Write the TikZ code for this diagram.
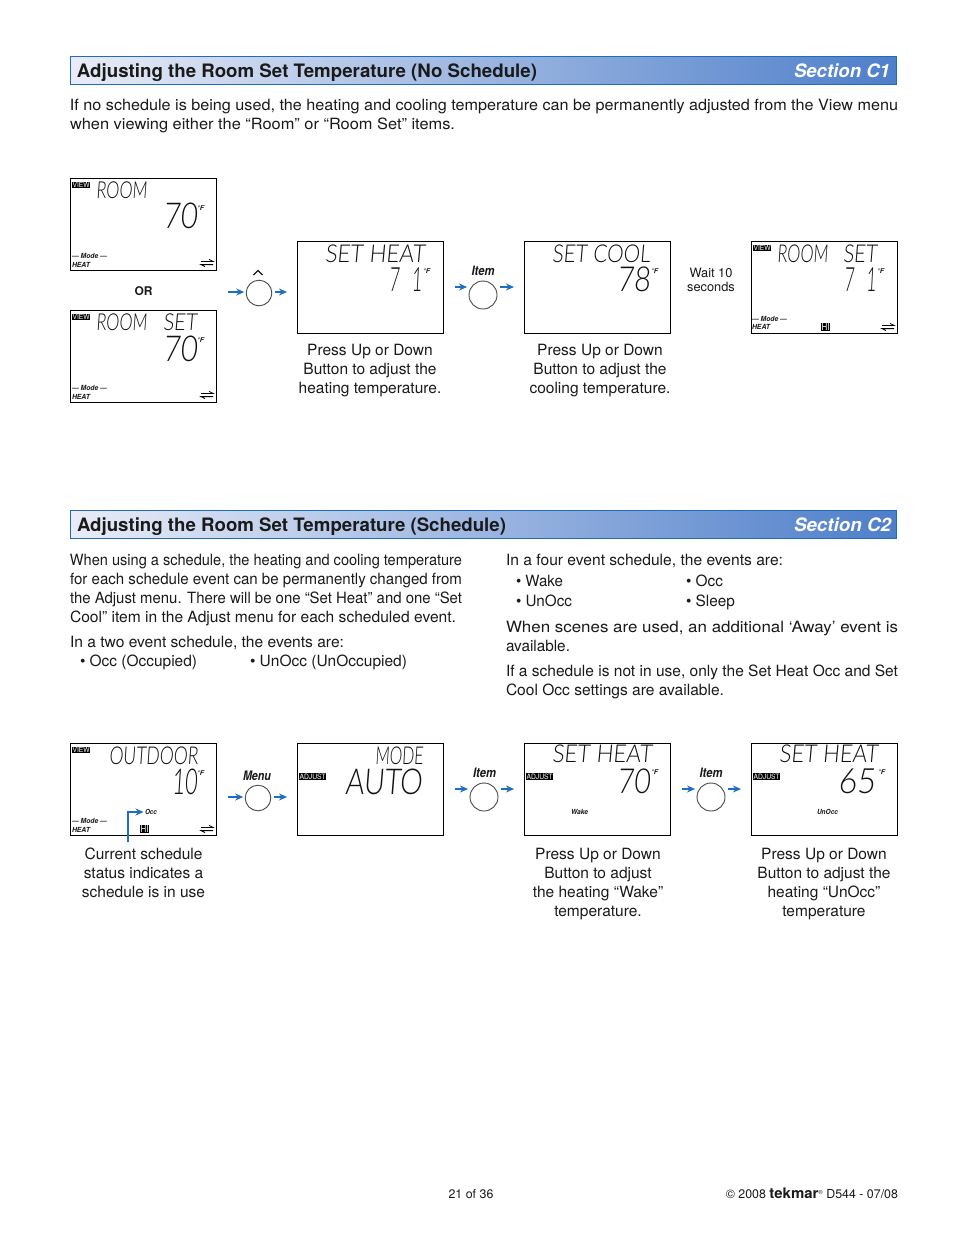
\documentclass[tikz,border=0pt]{standalone}
\usepackage{fontspec}
\usepackage{graphicx}
\usepackage{xcolor}
\usepackage{tikz}
\usetikzlibrary{arrows.meta,calc,positioning}
\setmainfont{TeX Gyre Heros}
\newfontfamily\lcdfont[FakeSlant=0.1]{Lato Light}
\definecolor{barblue}{HTML}{1F6DBA}
\definecolor{barleft}{HTML}{E9ECF7}
\definecolor{barright}{HTML}{4E7FCA}
\definecolor{flowblue}{HTML}{1C6FC2}
\definecolor{inkmain}{HTML}{1A1A1A}
\definecolor{lcdink}{HTML}{111111}
\tikzset{
  every node/.append style={inner sep=0pt,outer sep=0pt,text=inkmain},
  sectionbar/.style={draw=barblue,line width=1.2pt,left color=barleft,right color=barright,
    anchor=north west,minimum width=826pt,minimum height=28pt},
  bartitle/.style={anchor=base west,font=\bfseries\fontsize{18.5}{20}\selectfont},
  barsection/.style={anchor=base east,text=white,font=\bfseries\itshape\fontsize{18.5}{20}\selectfont},
  bodytext/.style={anchor=base west,font=\fontsize{15.5}{19}\selectfont},
  caption/.style={anchor=north,align=center,font=\fontsize{15.5}{19}\selectfont},
  lcdbox/.style={draw=black,line width=0.9pt,fill=white,anchor=north west,minimum width=146.5pt,minimum height=92.5pt},
  lcdseg/.style={anchor=north west,text=lcdink},
  lcdtiny/.style={anchor=west,font=\bfseries\itshape\fontsize{7}{8}\selectfont},
  badge/.style={anchor=north west,fill=black,text=white,inner sep=0.6pt,font=\fontsize{7}{7}\selectfont},
  btn/.style={circle,draw=inkmain!80,line width=0.9pt,fill=white},
  btnlabel/.style={anchor=center,font=\bfseries\itshape\fontsize{13}{14}\selectfont},
  flowin/.style={-{Stealth[length=8pt,width=7pt]},flowblue,line width=1.6pt,shorten <=11pt,shorten >=2pt},
  flowout/.style={-{Stealth[length=8pt,width=7pt]},flowblue,line width=1.6pt,shorten <=3pt,shorten >=10pt},
  swapline/.style={line width=0.8pt,black},
}
% squeeze a line of text to a given width
\newcommand{\fitw}[2]{\resizebox{#1pt}{\height}{#2}}
% name, x, y, width, height, characters
\newcommand{\lcdtext}[6]{\node[lcdseg] (#1) at (#2,#3) {\resizebox{#4pt}{\dimexpr #5pt*88/100\relax}{\lcdfont #6}};}
\newcommand{\degF}[3]{\node[lcdtiny,font=\bfseries\itshape\fontsize{6.5}{7}\selectfont] (#1) at (#2,#3) {\fitw{7}{°F}};}
\newcommand{\viewbadge}[3]{\node[badge] (#1) at (#2,#3) {\resizebox{17pt}{5pt}{VIEW}};}
\newcommand{\adjustbadge}[3]{\node[badge] (#1) at (#2,#3) {\resizebox{26pt}{5.5pt}{ADJUST}};}
\newcommand{\hibadge}[3]{\node[badge] (#1) at (#2,#3) {\resizebox{8pt}{7pt}{HI}};}
\newcommand{\modeblock}[3]{%
  \node[lcdtiny] (#1mode) at (#2,#3) {\fitw{35}{--- Mode ---}};
  \node[lcdtiny] (#1heat) at (#2,#3+8.5) {\fitw{18}{HEAT}};}
\newcommand{\swapsym}[2]{%
  \draw[swapline] (#1,#2-1.6)--(#1+12,#2-1.6)--(#1+8,#2-3.6);
  \draw[swapline] (#1+12,#2+1.6)--(#1,#2+1.6)--(#1+4,#2+3.6);}

\begin{document}
\begin{tikzpicture}[x=1pt,y=-1pt,>=Stealth]
  \path[use as bounding box,fill=white] (0,0) rectangle (954,1235);

  % section C1
  \node[sectionbar] (barone) at (70.5,56.5) {};
  \node[bartitle] (baronetitle) at (77,77) {\fitw{460}{Adjusting the Room Set Temperature (No Schedule)}};
  \node[barsection] (baronesec) at (890,77) {\fitw{96}{Section C1}};
  \node[bodytext] (introa) at (70,110) {\fitw{828}{If no schedule is being used, the heating and cooling temperature can be permanently adjusted from the View menu}};
  \node[bodytext] (introb) at (70,129) {\fitw{385}{when viewing either the “Room” or “Room Set” items.}};

  \node[lcdbox] (panela) at (70,178) {};
  \node[lcdbox] (panelb) at (70,310) {};
  \node[lcdbox] (panelc) at (297,241) {};
  \node[lcdbox] (paneld) at (524,241) {};
  \node[lcdbox] (panele) at (751,241) {};
  \node[lcdbox] (panelf) at (70,743) {};
  \node[lcdbox] (panelg) at (297,743) {};
  \node[lcdbox] (panelh) at (524,743) {};
  \node[lcdbox] (paneli) at (751,743) {};

  \viewbadge{aview}{72}{182}
  \lcdtext{aroom}{96}{182}{51}{19}{ROOM}
  \lcdtext{atemp}{163}{203}{34}{29}{70}
  \degF{adeg}{197}{208}
  \modeblock{a}{72}{256}
  \swapsym{201}{263}

  \node[anchor=center,font=\bfseries\fontsize{12}{14}\selectfont] (ortext) at (143.5,291.5) {OR};

  \viewbadge{bview}{72}{314}
  \lcdtext{broom}{96}{314}{51}{19}{ROOM}
  \lcdtext{bset}{163}{314}{34}{19}{SET}
  \lcdtext{btemp}{163}{336}{34}{29}{70}
  \degF{bdeg}{197}{340}
  \modeblock{b}{72}{388}
  \swapsym{201}{395}

  \lcdtext{cset}{325}{245}{100}{20}{SET HEAT}
  \lcdtext{ctemp}{389}{268}{33}{27}{7\hspace{0.7em}1}
  \degF{cdeg}{423}{271}

  \lcdtext{dset}{552}{245}{98}{20}{SET COOL}
  \lcdtext{dtemp}{617}{267}{33}{28}{78}
  \degF{ddeg}{651}{271}

  \viewbadge{eview}{753}{245}
  \lcdtext{eroom}{777}{245}{51}{20}{ROOM}
  \lcdtext{eset}{843}{245}{34}{20}{SET}
  \lcdtext{etemp}{844}{268}{32}{27}{7\hspace{0.7em}1}
  \degF{edeg}{877}{271}
  \modeblock{e}{752}{318.5}
  \hibadge{ehi}{821}{323}
  \swapsym{882}{327}

  % buttons, first row and second row
  \foreach \btn/\cx/\cy/\rr/\ay/\src/\dst in {
    upbtn/259/293/12.8/292/panela/panelc,
    itembtn/483/295/14/287/panelc/paneld,
    menubtn/258/798/12.8/797/panelf/panelg,
    itembtnb/484/797/14/789/panelg/panelh,
    itembtnc/711/797/14/789/panelh/paneli}{
    \node[btn,minimum size=2*\rr pt] (\btn) at (\cx,\cy) {};
    \coordinate (\btn-in) at ($(\btn.west)+(0,\ay-\cy)$);
    \coordinate (\btn-out) at ($(\btn.east)+(0,\ay-\cy)$);
    \draw[flowin] (\src.east |- \btn-in) -- (\btn-in);
    \draw[flowout] (\btn-out) -- (\dst.west |- \btn-out);
  }

  \draw[line width=1.1pt,inkmain] (253.5,275)--(258,270.5)--(262.5,275);
  \node[btnlabel] (itemlabel) at (483,271) {\fitw{23}{Item}};
  \node[btnlabel] (menulabel) at (257,776) {\fitw{28}{Menu}};
  \node[btnlabel] (itemlabelb) at (484.5,773) {\fitw{23}{Item}};
  \node[btnlabel] (itemlabelc) at (711,773) {\fitw{23}{Item}};

  \node[caption] (captiona) at (370,344.5) {Press Up or Down\\Button to adjust the\\heating temperature.};
  \node[caption] (captionb) at (600,344.5) {Press Up or Down\\Button to adjust the\\cooling temperature.};
  \node[anchor=north,align=center,font=\fontsize{12.8}{14.5}\selectfont] (waitnote) at (711,268) {Wait 10\\seconds};

  % section C2
  \node[sectionbar] (bartwo) at (70.5,510.5) {};
  \node[bartitle] (bartwotitle) at (77,531) {\fitw{429}{Adjusting the Room Set Temperature (Schedule)}};
  \node[barsection] (bartwosec) at (891,531) {\fitw{97}{Section C2}};

  \node[bodytext] (lefta) at (70,565) {\fitw{392}{When using a schedule, the heating and cooling temperature}};
  \node[bodytext] (leftb) at (70,584) {\fitw{392}{for each schedule event can be permanently changed from}};
  \node[bodytext] (leftc) at (70,603) {\fitw{392}{the Adjust menu. There will be one “Set Heat” and one “Set}};
  \node[bodytext] (leftd) at (70,622) {\fitw{386}{Cool” item in the Adjust menu for each scheduled event.}};
  \node[bodytext] (lefte) at (70,647) {\fitw{274}{In a two event schedule, the events are:}};
  \node[bodytext] (leftf) at (80,666) {\fitw{117}{• Occ (Occupied)}};
  \node[bodytext] (leftg) at (250,666) {\fitw{157}{• UnOcc (UnOccupied)}};

  \node[bodytext] (righta) at (506,565) {\fitw{277}{In a four event schedule, the events are:}};
  \node[bodytext] (rightb) at (516,586) {\fitw{47}{• Wake}};
  \node[bodytext] (rightc) at (686,586) {\fitw{37}{• Occ}};
  \node[bodytext] (rightd) at (516,606) {\fitw{56}{• UnOcc}};
  \node[bodytext] (righte) at (686,606) {\fitw{49}{• Sleep}};
  \node[bodytext] (rightf) at (506,632) {\fitw{392}{When scenes are used, an additional ‘Away’ event is}};
  \node[bodytext] (rightg) at (506,651) {\fitw{64}{available.}};
  \node[bodytext] (righth) at (506,676) {\fitw{392}{If a schedule is not in use, only the Set Heat Occ and Set}};
  \node[bodytext] (righti) at (506,695) {\fitw{218}{Cool Occ settings are available.}};

  \viewbadge{fview}{72}{747}
  \lcdtext{froom}{109}{747}{89}{20}{OUTDOOR}
  \lcdtext{ftemp}{172}{769}{25}{29}{10}
  \degF{fdeg}{197}{773}
  \modeblock{f}{72}{821}
  \hibadge{fhi}{140}{825}
  \swapsym{201}{829}
  \node[lcdtiny] (occmark) at (145,812) {\fitw{12}{Occ}};
  \coordinate (statusfoot) at (128,842);
  \draw[-{Stealth[length=8pt,width=7pt]},flowblue,line width=1.8pt,shorten >=1.5pt] (statusfoot) |- (occmark.west);

  \adjustbadge{gadjust}{299}{773}
  \lcdtext{gmode}{375}{747}{48}{20}{MODE}
  \lcdtext{gauto}{345}{769}{77}{29}{AUTO}

  \lcdtext{hset}{552}{745}{100}{20}{SET HEAT}
  \adjustbadge{hadjust}{526}{773}
  \lcdtext{htemp}{617}{769}{33}{28}{70}
  \degF{hdeg}{651}{772}
  \node[lcdtiny] (wakemark) at (571,812) {\fitw{17}{Wake}};

  \lcdtext{iset}{779}{745}{99}{20}{SET HEAT}
  \adjustbadge{iadjust}{753}{773}
  \lcdtext{itemp}{838}{769}{37}{28}{65}
  \degF{ideg}{878}{772}
  \node[lcdtiny] (unoccmark) at (817,812) {\fitw{21}{UnOcc}};

  \node[caption] (captionc) at (143.5,848) {Current schedule\\status indicates a\\schedule is in use};
  \node[caption] (captiond) at (598,848) {Press Up or Down\\Button to adjust\\the heating “Wake”\\temperature.};
  \node[caption] (captione) at (824,848) {Press Up or Down\\Button to adjust the\\heating “UnOcc”\\temperature};

  % footer
  \node[anchor=base,font=\fontsize{12.4}{14}\selectfont] (pagenum) at (471,1198) {21 of 36};
  \node[anchor=base east,font=\fontsize{12.4}{14}\selectfont] (footright) at (898,1198)
    {© 2008 \fitw{49}{\bfseries\fontsize{14.5}{14}\selectfont tekmar}\raisebox{4pt}{\fontsize{6}{6}\selectfont ®} D544 - 07/08};
\end{tikzpicture}
\end{document}
